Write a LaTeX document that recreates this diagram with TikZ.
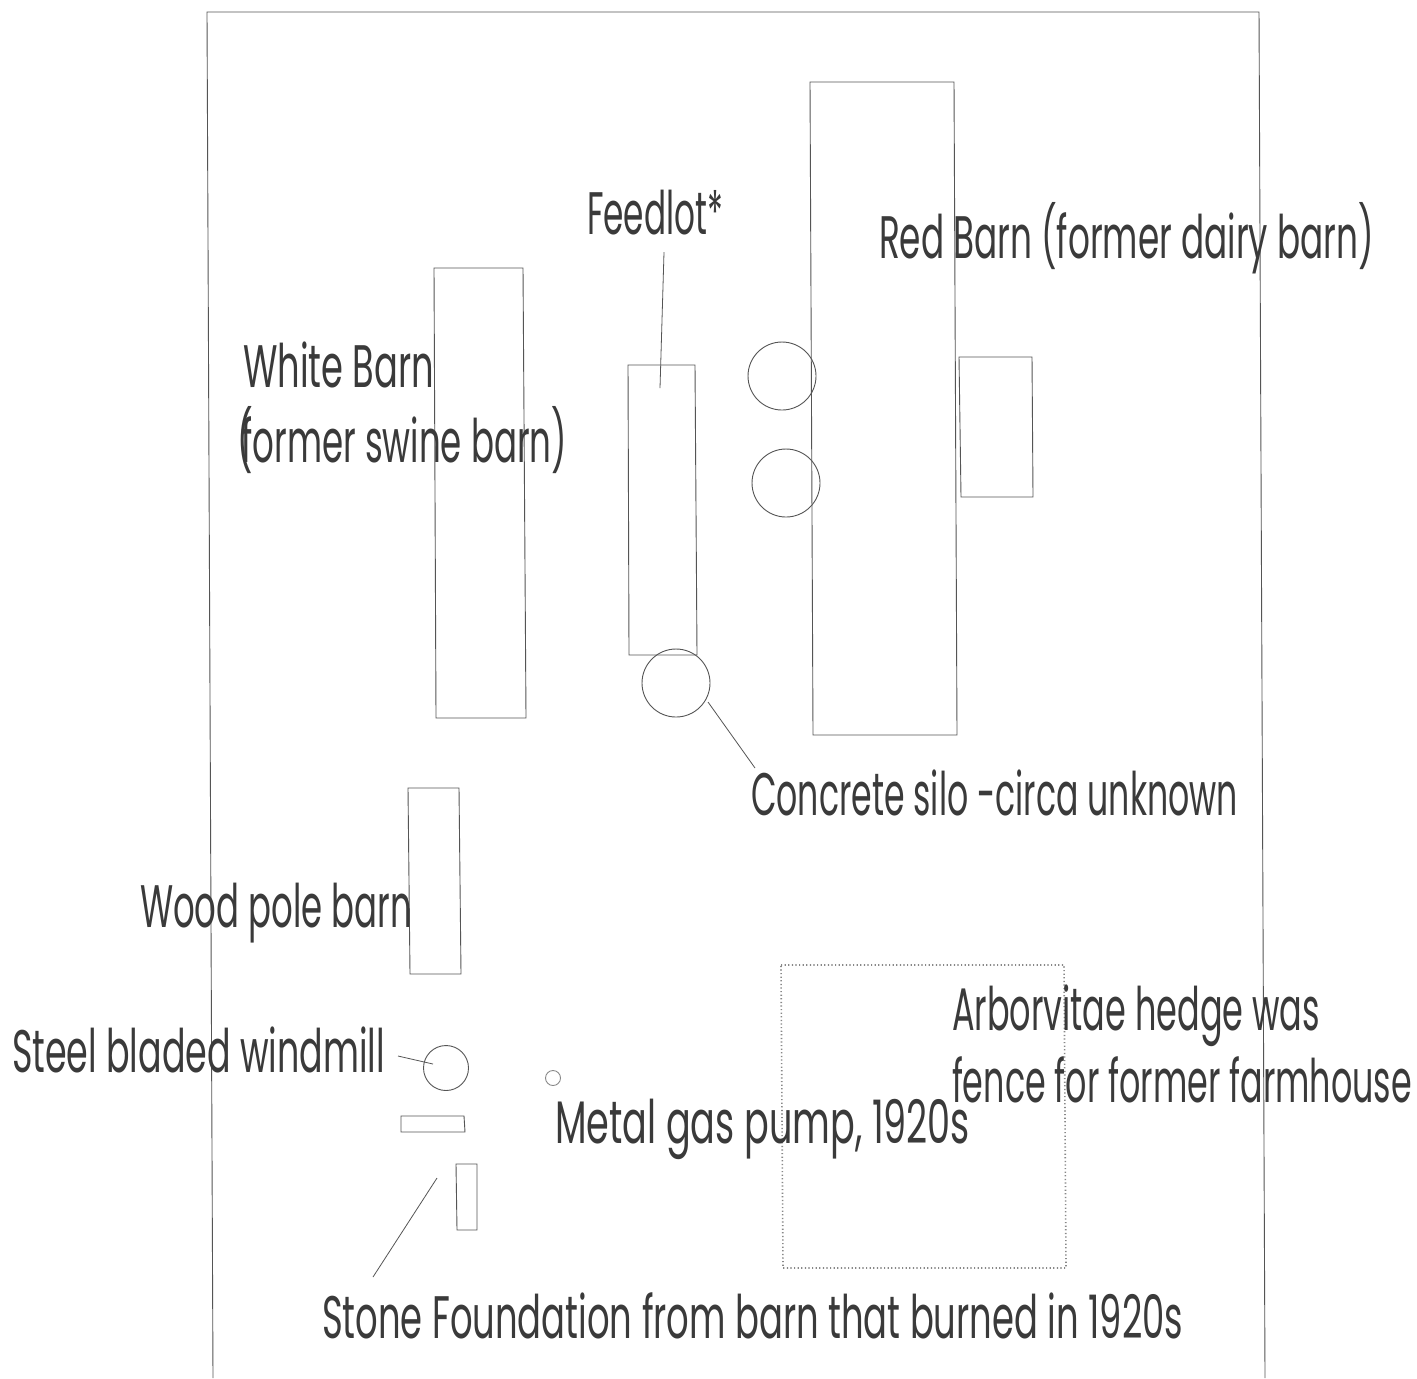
\documentclass[tikz,border=0pt]{standalone}
\usepackage{fontspec}
\usepackage{graphicx}
\setmainfont[FakeStretch=0.62]{Poppins}
\definecolor{ink}{HTML}{3A3A3A}
\definecolor{rule}{HTML}{555555}
\newcommand{\fitw}[2]{\resizebox{#1pt}{\height}{#2}}
\tikzset{
  plan/.style={draw=rule,line width=0.45pt,line join=miter},
  hedge/.style={draw=rule!70,line width=0.8pt,dash pattern=on 0.6pt off 1.2pt},
  leader/.style={draw=rule,line width=0.4pt},
  lbl/.style={anchor=base west,inner sep=0pt,outer sep=0pt,text=ink,font=\fontsize{30}{30}\selectfont},
  ring/.style={circle,draw=rule,line width=0.45pt,inner sep=0pt}
}
\begin{document}
\begin{tikzpicture}[x=0.5pt,y=-0.5pt]
\useasboundingbox (0,0) rectangle (1417,1378);
\fill[white] (0,0) rectangle (1417,1378);
% frame
\draw[plan] (213,1378) -- (207,12) -- (1259,12) -- (1265,1378);
% buildings
\draw[plan] (434,268) -- (523,268) -- (526,718) -- (436,718) -- cycle;
\draw[plan] (628,365) -- (695,365) -- (697,655) -- (629,655) -- cycle;
\draw[plan] (810,82) -- (954,82) -- (957,735) -- (813,735) -- cycle;
\draw[plan] (959,357) -- (1032,357) -- (1033,497) -- (961,497) -- cycle;
\draw[plan] (408,788) -- (459,788) -- (461,974) -- (410,974) -- cycle;
\draw[plan] (401,1116) -- (464,1116) -- (465,1132) -- (401,1132) -- cycle;
\draw[plan] (456,1164) -- (477,1164) -- (477,1230) -- (457,1230) -- cycle;
\draw[hedge] (781,965) -- (1064,965) -- (1066,1268) -- (783,1268) -- cycle;
% round structures
\node[ring,minimum size=34pt] (silo1) at (782,376) {};
\node[ring,minimum size=34pt] (silo2) at (786,483) {};
\node[ring,minimum size=34pt] (silo3) at (676,683) {};
\node[ring,minimum size=22.5pt] (windmill) at (446,1068) {};
\node[ring,minimum size=7.5pt,draw=rule!70] (pump) at (553,1078) {};
% labels
\node[lbl] (feedlot) at (587,234) {\fitw{68}{Feedlot*}};
\node[lbl] (redbarn) at (879,258) {\fitw{247.5}{Red Barn (former dairy barn)}};
\node[lbl] (white1) at (243,387) {\fitw{95.5}{White Barn}};
\node[lbl] (white2) at (237,462) {\fitw{165}{(\kern-6pt former swine barn)}};
\node[lbl] (concrete) at (751,815) {\fitw{243.5}{Concrete silo -circa unknown}};
\node[lbl] (wood) at (140,927) {\fitw{136}{Wood pole barn}};
\node[lbl] (arbor1) at (952,1030) {\fitw{184}{Arborvitae hedge was}};
\node[lbl] (arbor2) at (952,1102) {\fitw{230}{fence for former farmhouse}};
\node[lbl] (steel) at (12,1072) {\fitw{186.5}{Steel bladed windmill}};
\node[lbl] (metal) at (555,1143) {\fitw{207.5}{Metal gas pump, 1920s}};
\node[lbl] (stone) at (322,1338) {\fitw{430.5}{Stone Foundation from barn that burned in 1920s}};
% leaders
\coordinate (fa) at (664,252); \coordinate (fb) at (660,388);
\coordinate (ca) at (708,702); \coordinate (cb) at (755,768);
\coordinate (wa) at (398,1056); \coordinate (wb) at (433,1064);
\coordinate (sa) at (437,1178); \coordinate (sb) at (373,1277);
\draw[leader] (fa) -- (fb);
\draw[leader] (ca) -- (cb);
\draw[leader] (wa) -- (wb);
\draw[leader] (sa) -- (sb);
\end{tikzpicture}
\end{document}
